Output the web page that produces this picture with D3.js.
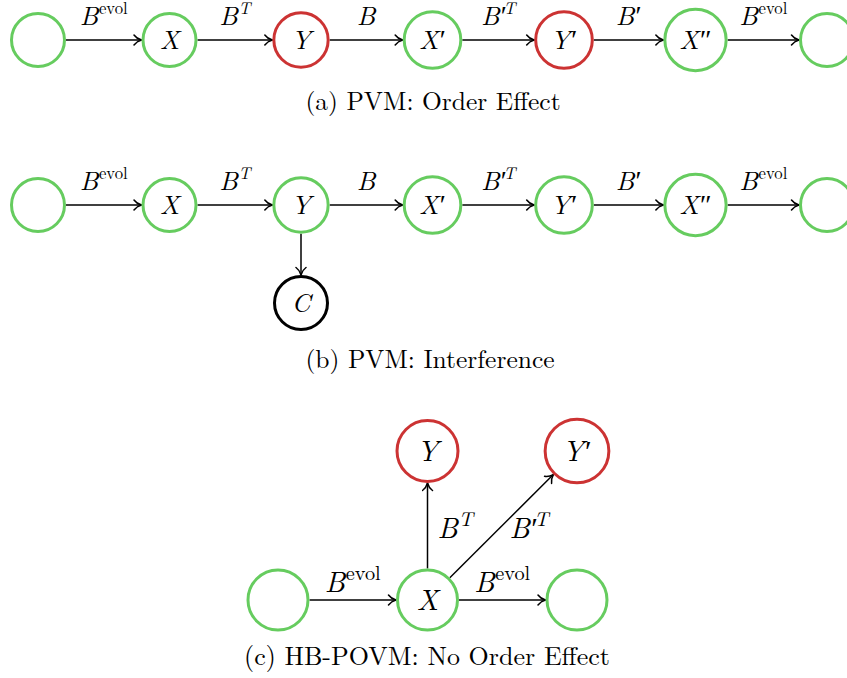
<!DOCTYPE html>
<html>
<head>
<meta charset="utf-8">
<title>PVM vs HB-POVM diagrams</title>
<script src="https://d3js.org/d3.v7.min.js"></script>
<style>
  body { margin: 0; background: #fff; }
</style>
</head>
<body>
<svg id="chart" width="847" height="678"></svg>
<script>
// ---- data ----
// (a) and (b): the measurement chain
var chainLabels = ["", "X", "Y", "X′", "Y′", "X″", ""];
var chainKindsA = ["g", "g", "r", "g", "r", "g", "g"];
var chainKindsB = ["g", "g", "g", "g", "g", "g", "g"];
var chainEdges  = ["B^evol", "B^T", "B", "B′^T", "B′", "B^evol"];
// (b): extra branch node hanging under Y
var branchLabel = "C";
var branchFrom  = 2;

// (c): HB-POVM star
var povmLabels = ["", "X", "", "Y", "Y′"];
var povmKinds  = ["g", "g", "g", "r", "r"];
var povmCols   = [0, 1, 2, 1, 2];
var povmRows   = [0, 0, 0, 1, 1];
var povmEdges  = [[0, 1, "B^evol", "above"], [1, 2, "B^evol", "above"],
                  [1, 3, "B^T", "right"], [1, 4, "B′^T", "below right"]];

var captions = ["(a) PVM: Order Effect", "(b) PVM: Interference", "(c) HB-POVM: No Order Effect"];

var colors = { g: "#66cc5f", r: "#cc3333", k: "#000" };
var LM = "'Latin Modern Roman', 'Liberation Serif', serif";
var PRIME = "'Liberation Serif', serif";

var svg = d3.select("#chart");

svg.append("defs").append("marker")
  .attr("id", "tip")
  .attr("markerUnits", "userSpaceOnUse")
  .attr("viewBox", "-10 -6 11 12")
  .attr("refX", 0).attr("refY", 0)
  .attr("markerWidth", 11).attr("markerHeight", 12)
  .attr("orient", "auto")
  .append("path")
  .attr("d", "M-7.5,-5 C-5.5,-2.2 -2.2,-0.6 0,0 C-2.2,0.6 -5.5,2.2 -7.5,5")
  .attr("fill", "none").attr("stroke", "#000").attr("stroke-width", 1.5)
  .attr("stroke-linecap", "round");

// write "B^evol" style math into a text element
function mathText(sel, str, fs, supScale) {
  var parts = str.split("^");
  var base = parts[0];
  var letters = base.replace(/[′″]/g, ""), primes = base.replace(/[^′″]/g, "");
  sel.append("tspan").style("font-family", LM).style("font-style", "italic")
    .attr("font-size", fs).text(letters);
  if (primes) {
    sel.append("tspan").style("font-family", PRIME).attr("font-size", fs * 1.05)
      .attr("dx", fs * 0.04).text(primes);
  }
  if (parts[1]) {
    var single = parts[1].length == 1;
    sel.append("tspan").style("font-family", LM)
      .style("font-style", single ? "italic" : "normal")
      .attr("font-size", fs * supScale)
      .attr("dx", primes ? -fs * 0.13 : fs * 0.02)
      .attr("dy", -fs * 0.42)
      .text(parts[1]);
  }
}

function drawGraph(g, nodes, edges, x, y, o) {
  // nodes first so the radii are known
  var ng = g.append("g").selectAll("g").data(nodes).enter().append("g")
    .attr("transform", function(d) { return "translate(" + x(d.col) + "," + y(d.row) + ")"; });

  ng.append("text")
    .attr("text-anchor", "middle")
    .attr("dy", o.fs * 0.34)
    .each(function(d) { mathText(d3.select(this), d.label, o.fs, o.sup); });

  ng.each(function(d) {
    var w = d.label ? this.querySelector("text").getBBox().width : 0;
    d.r = d.label ? Math.max(o.rMin, Math.hypot(w, o.fs * 0.7) / 2 + o.pad) : o.rMin;
    d.x = x(d.col); d.y = y(d.row);
  });

  ng.insert("circle", "text")
    .attr("r", function(d) { return d.r; })
    .attr("fill", "none")
    .attr("stroke", function(d) { return colors[d.kind]; })
    .attr("stroke-width", 3);

  var eg = g.insert("g", ":first-child");
  edges.forEach(function(e) {
    var s = nodes[e.s], t = nodes[e.t];
    var dx = t.x - s.x, dy = t.y - s.y, len = Math.hypot(dx, dy);
    var ux = dx / len, uy = dy / len;
    var x1 = s.x + ux * (s.r + 1.5), y1 = s.y + uy * (s.r + 1.5);
    var x2 = t.x - ux * (t.r + 1.5), y2 = t.y - uy * (t.r + 1.5);
    eg.append("line")
      .attr("x1", x1).attr("y1", y1).attr("x2", x2).attr("y2", y2)
      .attr("stroke", "#000").attr("stroke-width", 1.5)
      .attr("marker-end", "url(#tip)");
    if (!e.label) return;
    var mx = (x1 + x2) / 2, my = (y1 + y2) / 2;
    var lab = g.append("text");
    if (e.side == "above") {
      lab.attr("x", mx).attr("y", my - o.above).attr("text-anchor", "middle");
    } else if (e.side == "right") {
      lab.attr("x", mx + 10).attr("y", my + 12).attr("text-anchor", "start");
    } else {
      lab.attr("x", mx + 8).attr("y", my + 12).attr("text-anchor", "start");
    }
    mathText(lab, e.label, o.fs, o.sup);
  });
}

// ---- panel (a) ----
var xChain = d3.scalePoint().domain(d3.range(chainLabels.length)).range([38, 827]);
var chainOpts = { fs: 26.5, sup: 0.63, rMin: 26.5, pad: 12, above: 15 };

var nodesA = chainLabels.map(function(l, i) { return { label: l, kind: chainKindsA[i], col: i, row: 0 }; });
var edgesA = chainEdges.map(function(l, i) { return { s: i, t: i + 1, label: l, side: "above" }; });
drawGraph(svg.append("g"), nodesA, edgesA, xChain, d3.scaleLinear().domain([0, 1]).range([40, 138]), chainOpts);

// ---- panel (b) ----
var nodesB = chainLabels.map(function(l, i) { return { label: l, kind: chainKindsB[i], col: i, row: 0 }; });
nodesB.push({ label: branchLabel, kind: "k", col: branchFrom, row: 1 });
var edgesB = chainEdges.map(function(l, i) { return { s: i, t: i + 1, label: l, side: "above" }; });
edgesB.push({ s: branchFrom, t: nodesB.length - 1, label: "", side: "" });
drawGraph(svg.append("g"), nodesB, edgesB, xChain, d3.scaleLinear().domain([0, 1]).range([205, 303]), chainOpts);

// ---- panel (c) ----
var xPovm = d3.scalePoint().domain([0, 1, 2]).range([278, 577]);
var yPovm = d3.scaleLinear().domain([0, 1]).range([600, 451]);
var nodesC = povmLabels.map(function(l, i) { return { label: l, kind: povmKinds[i], col: povmCols[i], row: povmRows[i] }; });
var edgesC = povmEdges.map(function(e) { return { s: e[0], t: e[1], label: e[2], side: e[3] }; });
drawGraph(svg.append("g"), nodesC, edgesC, xPovm, yPovm, { fs: 29, sup: 0.7, rMin: 30, pad: 14, above: 8 });

// ---- captions ----
var capX = [433, 430, 427], capY = [110, 368, 665], capFs = [25.5, 25.5, 26];
svg.selectAll("text.caption").data(captions).enter().append("text")
  .attr("class", "caption")
  .attr("x", function(d, i) { return capX[i]; })
  .attr("y", function(d, i) { return capY[i]; })
  .attr("text-anchor", "middle")
  .attr("font-size", function(d, i) { return capFs[i]; })
  .style("font-family", LM)
  .text(function(d) { return d; });
</script>
</body>
</html>
